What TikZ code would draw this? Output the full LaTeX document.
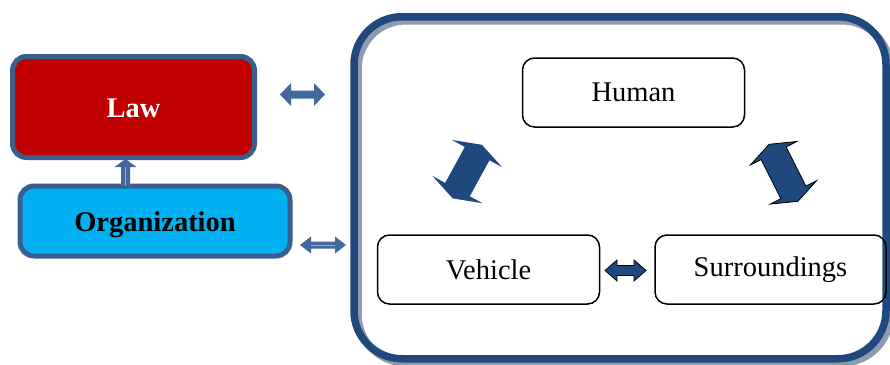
\documentclass[tikz,border=0pt]{standalone}
\usepackage{fontspec}
\setmainfont{Liberation Serif}
\usetikzlibrary{positioning, calc}

\definecolor{frameblue}{HTML}{1F497D}
\definecolor{edgeblue}{HTML}{3A5F8E}
\definecolor{arrowblue}{HTML}{41699C}
\definecolor{shadowgray}{HTML}{8E9CB0}
\definecolor{lawred}{HTML}{C00000}
\definecolor{orgcyan}{HTML}{00B0F0}

% block arrow with two heads: style, tip, tip, half shaft, half head, head length
\newcommand{\twowayarrow}[6]{%
  \path ($#2!#6!#3$) coordinate (ha) ($#3!#6!#2$) coordinate (hb);
  \filldraw[#1] #2 -- ($(ha)!#5!90:#3$) -- ($(ha)!#4!90:#3$) -- ($(hb)!#4!-90:#2$)
    -- ($(hb)!#5!-90:#2$) -- #3 -- ($(hb)!#5!90:#2$) -- ($(hb)!#4!90:#2$)
    -- ($(ha)!#4!-90:#3$) -- ($(ha)!#5!-90:#3$) -- cycle;}

% block arrow with one head: style, tail, tip, half shaft, half head, head length
\newcommand{\onewayarrow}[6]{%
  \path ($#3!#6!#2$) coordinate (hb);
  \filldraw[#1] ($#2!#4!90:#3$) -- ($(hb)!#4!-90:#2$) -- ($(hb)!#5!-90:#2$) -- #3
    -- ($(hb)!#5!90:#2$) -- ($(hb)!#4!90:#2$) -- ($#2!#4!-90:#3$) -- cycle;}

\begin{document}
\begin{tikzpicture}[
    x=1pt, y=-1pt,
    box/.style={draw, line width=1.5pt, rounded corners=12pt, minimum width=222pt, minimum height=69pt, font=\fontsize{28.5}{32}\selectfont},
    tag/.style={draw=edgeblue, line width=5pt, rounded corners=14pt, font=\fontsize{28.5}{32}\selectfont\bfseries},
    frame/.style={draw=frameblue, line width=7.5pt, rounded corners=48pt, minimum width=532pt, minimum height=342pt},
    split/.style={line width=0.5pt, draw=arrowblue!55!white}
]
\useasboundingbox (0,0) rectangle (890,364);

% System frame
\node[frame, draw=shadowgray] (frameshadow) at (624,191.75) {};
\node[frame] (system) at (620,187.75) {};

% Left side
\node[tag, fill=lawred, text=white, minimum width=242pt, minimum height=101pt, text height=22pt, text depth=2pt] (law) at (133.5,107) {Law};
\node[tag, fill=orgcyan, minimum width=270pt, minimum height=70pt, text height=27pt, text depth=6pt] (org) at (155,221) {Organization};

% Inner boxes
\node[box] (human) at (633.5,92.5) {Human};
\node[box] (vehicle) at (488.5,269.5) {Vehicle};
\node[box, right=54pt of vehicle, minimum width=231pt] (surr) {Surroundings};

% Arrows
\coordinate (lawl) at (280,94.5);
\coordinate (lawr) at (325,94.5);
\twowayarrow{arrowblue, draw=none}{(lawl)}{(lawr)}{4pt}{11.5pt}{11pt}

\coordinate (orgl) at (300,245);
\coordinate (orgr) at (346,245);
\twowayarrow{arrowblue, draw=none}{(orgl)}{(orgr)}{3.5pt}{8.5pt}{11pt}
\draw[split] (ha) -- (hb);

\coordinate (updown) at (125.5,186);
\coordinate (uptip) at (125.5,159);
\onewayarrow{arrowblue, draw=none}{(updown)}{(uptip)}{4.5pt}{11pt}{8pt}
\draw[split] (updown) -- (hb);

\coordinate (vsl) at (605,270.5);
\coordinate (vsr) at (646,270.5);
\twowayarrow{frameblue, draw=black, line width=0.8pt}{(vsl)}{(vsr)}{5pt}{10.5pt}{12pt}

\coordinate (vhlow) at (452.7,198.4);
\coordinate (vhup) at (481.9,144.8);
\twowayarrow{frameblue, draw=none}{(vhlow)}{(vhup)}{14pt}{28.5pt}{10pt}

\coordinate (hsup) at (769.1,144.3);
\coordinate (hslow) at (797.9,201.3);
\twowayarrow{frameblue, draw=black, line width=0.8pt}{(hsup)}{(hslow)}{14pt}{26pt}{10pt}

\end{tikzpicture}
\end{document}
